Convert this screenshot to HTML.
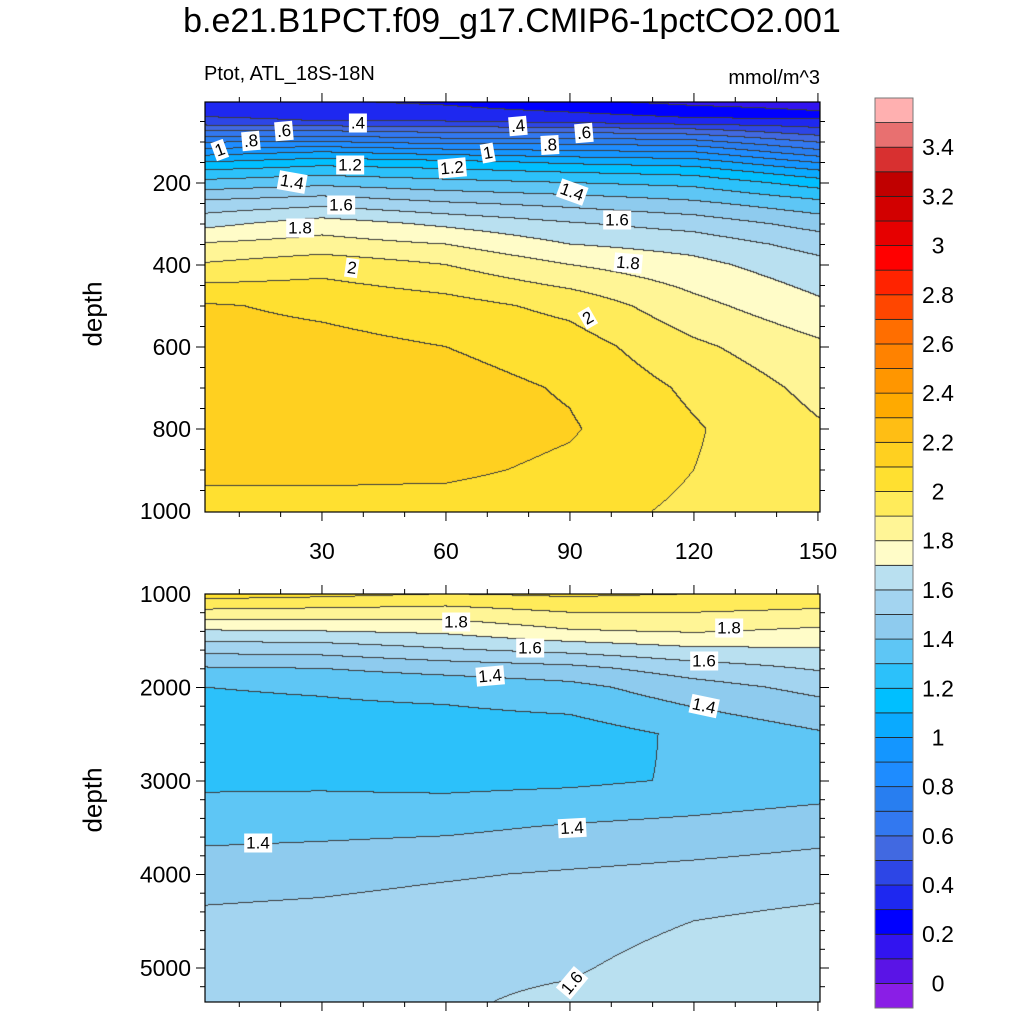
<!DOCTYPE html>
<html><head><meta charset="utf-8"><style>
body{margin:0;background:#fff;width:1024px;height:1024px;position:relative;overflow:hidden;font-family:"Liberation Sans",Arial,sans-serif;color:#000}
.abs{position:absolute}
canvas{position:absolute}
.cl{position:absolute;background:#fff;font-size:17px;line-height:17px;padding:1px 2px;transform:translate(-50%,-50%)}
</style></head><body>
<div class="abs" style="left:0;width:1024px;top:2px;text-align:center;font-size:34px">b.e21.B1PCT.f09_g17.CMIP6-1pctCO2.001</div>
<div class="abs" style="left:204px;top:63px;font-size:20px">Ptot, ATL_18S-18N</div>
<div class="abs" style="right:204px;top:67px;font-size:20px">mmol/m^3</div>
<div class="abs" style="left:93px;top:314px;font-size:26px;transform:translate(-50%,-50%) rotate(-90deg)">depth</div>
<div class="abs" style="left:93px;top:800px;font-size:26px;transform:translate(-50%,-50%) rotate(-90deg)">depth</div>
<canvas id="cTop" width="615" height="410" style="left:205px;top:102px"></canvas>
<canvas id="cBot" width="615" height="408" style="left:205px;top:594px"></canvas>
<svg id="axes" width="1024" height="1024" style="position:absolute;left:0;top:0"></svg>
<div id="labels"></div>
<script>
// ---- data ----
const lats = [1.7, 30, 60, 90, 120, 150.5];
const topDepths = [2, 25, 50, 75, 100, 125, 150, 175, 200, 250, 300, 350, 400, 500, 600, 700, 800, 900, 1000];
const topLat0 = [0.32,0.36,0.43,0.61,0.79,0.95,1.10,1.23,1.33,1.53,1.67,1.81,1.91,2.11,2.14,2.16,2.15,2.12,2.07];
const topLat30 = [0.31,0.35,0.40,0.61,0.80,1.00,1.16,1.27,1.37,1.57,1.75,1.84,1.96,2.08,2.13,2.15,2.15,2.12,2.07];
const topLat60 = [0.28,0.33,0.40,0.58,0.76,0.95,1.13,1.24,1.33,1.51,1.68,1.80,1.90,2.04,2.10,2.14,2.15,2.12,2.06];
const topLat90 = [0.22,0.29,0.37,0.58,0.76,0.92,1.08,1.20,1.30,1.47,1.61,1.70,1.80,1.97,2.05,2.09,2.11,2.08,2.04];
const topLat120 = [0.17,0.24,0.33,0.55,0.73,0.90,1.05,1.17,1.27,1.42,1.56,1.66,1.73,1.83,1.92,1.98,2.01,2.00,1.98];
const topLat150 = [0.15,0.20,0.33,0.44,0.59,0.73,0.89,1.03,1.15,1.33,1.46,1.56,1.63,1.72,1.82,1.87,1.91,1.93,1.94];
const botDepths = [1000, 1200, 1400, 1600, 1800, 2000, 2500, 3000, 3500, 4000, 4500, 5000, 5400];
const botLat0 = [2.05,1.87,1.69,1.53,1.39,1.30,1.26,1.28,1.36,1.46,1.52,1.55,1.57];
const botLat30 = [2.03,1.86,1.70,1.54,1.40,1.31,1.26,1.28,1.37,1.47,1.53,1.56,1.58];
const botLat60 = [2.00,1.85,1.72,1.59,1.44,1.33,1.25,1.27,1.38,1.49,1.55,1.58,1.59];
const botLat90 = [2.02,1.90,1.79,1.63,1.47,1.37,1.25,1.28,1.41,1.51,1.56,1.59,1.62];
const botLat120 = [2.00,1.90,1.81,1.68,1.55,1.46,1.32,1.31,1.43,1.53,1.60,1.64,1.66];
const botLat150 = [1.98,1.88,1.78,1.69,1.61,1.53,1.39,1.34,1.46,1.55,1.63,1.66,1.68];
const levelColors = ["#8a1ee6","#5a14e6","#3214f0","#0000ff","#1e28f0","#2d46e6","#4169e1","#3278f0","#287ef0","#1e8cff","#1496ff","#0aaaff","#00bfff","#2cc1fa","#5ec6f5","#8ecbee","#a3d4f0","#b9e0f0","#fffcc8","#fff596","#ffeb5a","#ffe030","#ffd020","#ffbe14","#ffaa00","#ff9600","#ff8200","#ff6e00","#ff4600","#ff2300","#ff0000","#e60000","#d20000","#c00000","#d83030","#e87070","#ffb0b0"];
const cbLabels = ["0","0.2","0.4","0.6","0.8","1","1.2","1.4","1.6","1.8","2","2.2","2.4","2.6","2.8","3","3.2","3.4"];
const cbValues = [0,0.2,0.4,0.6,0.8,1,1.2,1.4,1.6,1.8,2,2.2,2.4,2.6,2.8,3,3.2,3.4];
const xTickVals = [30,60,90,120,150];
const topYTicks = [200,400,600,800,1000];
const botYTicks = [1000,2000,3000,4000,5000];
// ---- axes functions ----
const xS = l => 205 + (l-1.7)/(150.5-1.7)*615;
const yTop = d => 101 + d*0.41;
const yBot = d => 594 + (d-1000)*0.0935;
const cbY = v => 1008 - (v+0.1)*(910/3.7);
function interp1(arr,v){let i=0;while(i<arr.length-2&&v>arr[i+1])i++;let t=(v-arr[i])/(arr[i+1]-arr[i]);t=Math.max(0,Math.min(1,t));return [i,t];}
function field(cols,depths,lat,d){const [i,tx]=interp1(lats,lat);const [j,ty]=interp1(depths,d);
 const a=cols[i][j]*(1-ty)+cols[i][j+1]*ty, b=cols[i+1][j]*(1-ty)+cols[i+1][j+1]*ty;return a*(1-tx)+b*tx;}
function hex(c){return [parseInt(c.substr(1,2),16),parseInt(c.substr(3,2),16),parseInt(c.substr(5,2),16)];}
const rgb = levelColors.map(hex);
function draw(id,cols,depths,yInv){const cv=document.getElementById(id),ctx=cv.getContext('2d'),W=cv.width,H=cv.height;
 const img=ctx.createImageData(W,H),band=new Int16Array(W*H);
 for(let y=0;y<H;y++){const d=yInv(y+0.5);for(let x=0;x<W;x++){const lat=1.7+(x+0.5)/W*(150.5-1.7);
  const v=field(cols,depths,lat,d);let b=Math.floor((v+0.1)/0.1);b=Math.max(0,Math.min(36,b));band[y*W+x]=b;}}
 for(let y=0;y<H;y++)for(let x=0;x<W;x++){const k=y*W+x,b=band[k];let c=rgb[b];
  const e=(x<W-1&&band[k+1]!==b)||(y<H-1&&band[k+W]!==b);if(e)c=[60,60,60];
  img.data[k*4]=c[0];img.data[k*4+1]=c[1];img.data[k*4+2]=c[2];img.data[k*4+3]=255;}
 ctx.putImageData(img,0,0);}
draw('cTop',[topLat0,topLat30,topLat60,topLat90,topLat120,topLat150],topDepths,y=>(y+102-101)/0.41);
draw('cBot',[botLat0,botLat30,botLat60,botLat90,botLat120,botLat150],botDepths,y=>1000+(y)/0.0935);
// ---- svg axes ----
const svg=document.getElementById('axes');const NS='http://www.w3.org/2000/svg';
function el(t,a,p){const e=document.createElementNS(NS,t);for(const k in a)e.setAttribute(k,a[k]);(p||svg).appendChild(e);return e;}
function ln(x1,y1,x2,y2,w){return el('line',{x1,y1,x2,y2,stroke:'#000','stroke-width':w||1});}
function txt(x,y,s,anchor,size){const t=el('text',{x,y,'font-size':size||23,'text-anchor':anchor,'font-family':'Liberation Sans, Arial, sans-serif'});t.textContent=s;return t;}
[[102,512,yTop,topYTicks,50,0,1000],[594,1002,yBot,botYTicks,200,1000,5400]].forEach((p,pi)=>{
 const [t,b,yf,yt,minor,d0,d1]=p;
 const fr=el('rect',{x:205,y:t,width:615,height:b-t,fill:'none',stroke:'#000','stroke-width':1.2});
 
 
 for(let l=10;l<=150;l+=10){const x=xS(l),mj=l%30===0,len=mj?9:5;ln(x,t,x,t-len);ln(x,b,x,b+len);}
 for(let d=d0+minor;d<d1;d+=minor){const y=yf(d);if(y<=t||y>b)continue;const mj=yt.includes(d),len=mj?9:5;ln(205,y,205-len,y);ln(820,y,820+len,y);}
 yt.forEach(d=>{const lab=txt(191,yf(d)+8,String(d),'end');
  
  });
});
xTickVals.forEach(l=>{const lab=txt(xS(l),559,String(l),'middle');
 
 });
// colorbar
levelColors.forEach((c,i)=>{const v0=-0.1+i*0.1;const y1=cbY(v0+0.1),y2=cbY(v0);
 const r=el('rect',{x:875,y:y1,width:38,height:y2-y1,fill:c,stroke:'#222','stroke-width':0.8});
 
 });
el('rect',{x:875,y:cbY(3.6),width:38,height:cbY(-0.1)-cbY(3.6),fill:'none',stroke:'#777','stroke-width':1});
cbLabels.forEach((s,i)=>{const lab=txt(938,cbY(cbValues[i])+8,s,'middle');
 
 });
// contour labels
const clText=[".4",".4",".6",".6",".8",".8","1","1","1.2","1.2","1.4","1.4","1.6","1.6","1.8","1.8","2","2","1.8","1.8","1.6","1.6","1.4","1.4","1.4","1.4","1.6"];
const clPos=[[358,123,0],[518,126,-5],[284,131,-5],[584,133,-5],[251,141,-5],[550,145,-3],[220,150,-20],[488,153,-10],[350,165,0],[452,168,-5],[292,182,10],[572,192,20],[341,205,0],[617,220,0],[300,228,0],[628,263,5],[352,268,8],[588,318,-30],[456,622,0],[729,628,0],[530,648,0],[704,661,0],[490,676,-5],[704,706,12],[258,843,0],[572,828,-3],[572,983,-50]];
const lw=document.getElementById('labels');
clText.forEach((s,i)=>{const d=document.createElement('div');d.className='cl';d.textContent=s;
 d.style.left=clPos[i][0]+'px';d.style.top=clPos[i][1]+'px';d.style.transform='translate(-50%,-50%) rotate('+clPos[i][2]+'deg)';
 
 
 lw.appendChild(d);});
</script>
</body></html>
